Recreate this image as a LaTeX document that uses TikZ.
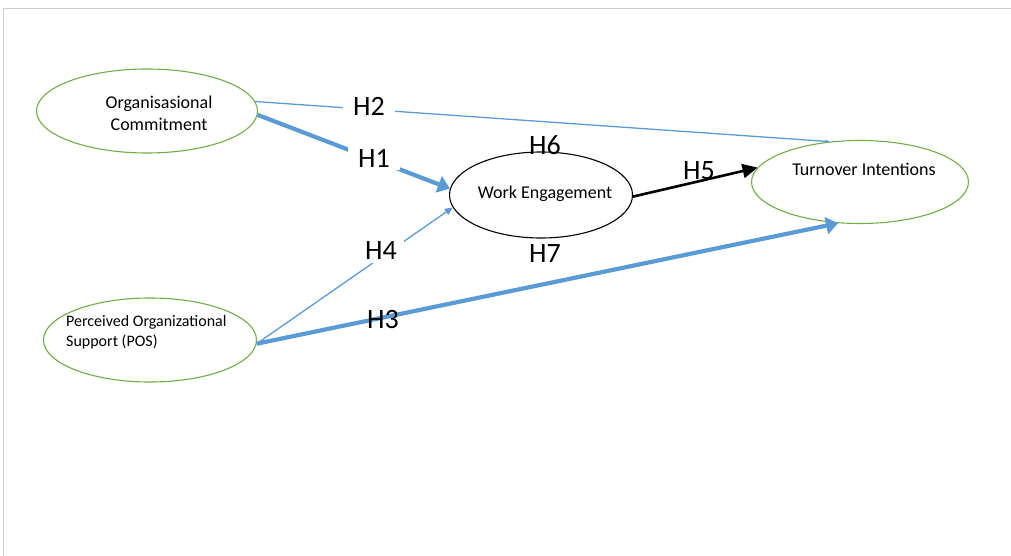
\documentclass[tikz,border=0pt]{standalone}
\usepackage{fontspec}
\setmainfont{Carlito}
\usetikzlibrary{arrows.meta,shapes.geometric}
\definecolor{mblue}{HTML}{5B9BD5}
\definecolor{mgreen}{HTML}{70AD47}
\definecolor{frame}{HTML}{D0D0D0}
\tikzset{
  ell/.style={ellipse, draw, line width=1.1pt, inner sep=0pt},
  gell/.style={ell, draw=mgreen},
  bell/.style={ell, draw=black},
  txt/.style={font=\fontsize{18}{22}\selectfont, inner sep=0pt},
  hlab/.style={font=\fontsize{28}{30}\selectfont, inner sep=0pt},
  hgap/.style={hlab, fill=white, inner xsep=10pt, inner ysep=3pt},
  thinb/.style={draw=mblue, line width=1.3pt},
  thickb/.style={draw=mblue, line width=4.2pt},
}
\begin{document}
\begin{tikzpicture}[x=1pt,y=-1pt]
\useasboundingbox (0,0) rectangle (1011,556);
\draw[frame, line width=1.5pt] (3.5,556) -- (3.5,8.5) -- (1011,8.5);

% ellipses
\node[gell, minimum width=221pt, minimum height=84pt] (oc) at (147,111) {};
\node[gell, minimum width=213pt, minimum height=84pt] (pos) at (150,340) {};
\node[bell, minimum width=183pt, minimum height=86pt] (we) at (541,195) {};
\node[gell, minimum width=217pt, minimum height=83pt] (ti) at (860,182) {};

% texts
\node[txt, align=center] (toc) at (159,113) {Organisasional\\Commitment};
\node[txt, font=\fontsize{16}{19.5}\selectfont, align=left, anchor=west] (tpos) at (66,332) {Perceived Organizational\\Support (POS)};
\node[txt] (twe) at (545,194) {Work Engagement};
\node[txt] (tti) at (864,169) {Turnover Intentions};

% connectors
\draw[thinb, -{Triangle[length=4pt,width=3pt]}] (oc.5) -- (ti.127);
\draw[thickb, -{Triangle[length=12pt,width=17pt]}] (oc.-2) -- (we.176);
\draw[thinb, -{Triangle[length=8pt,width=7pt]}] (pos.-2) -- (we.188);
\draw[thickb, -{Triangle[length=12pt,width=17pt]}] (pos.-2) -- (ti.242);
\draw[black, line width=2.6pt, -{Triangle[length=15pt,width=14pt]}] (we.-1) -- (ti.172);

% labels
\node[hgap] (h2) at (369,106) {H2};
\node[hgap] (h1) at (374,158) {H1};
\node[hgap, inner xsep=7pt] (h4) at (381,251) {H4};
\node[hlab] (h3) at (383,320) {H3};
\node[hlab] (h5) at (699,171) {H5};
\node[hlab] (h6) at (545,145) {H6};
\node[hlab] (h7) at (545,254) {H7};
\end{tikzpicture}
\end{document}
